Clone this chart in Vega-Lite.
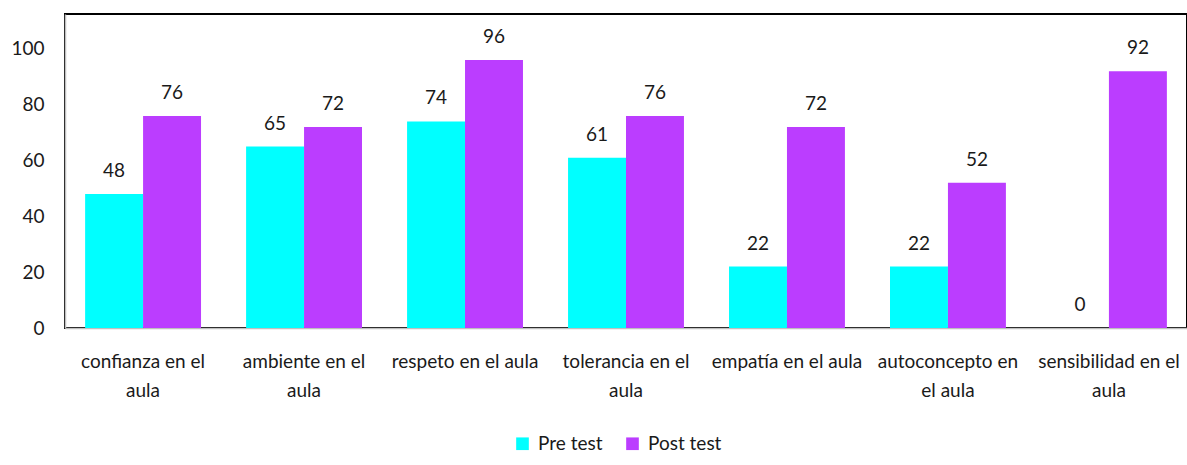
{
  "$schema": "https://vega.github.io/schema/vega-lite/v6.json",
  "width": 1122,
  "height": 314,
  "autosize": {"type": "none"},
  "padding": {"left": 65, "top": 14, "right": 0, "bottom": 137},
  "background": "white",
  "config": {
    "font": "Lato",
    "view": {"stroke": "black", "strokeWidth": 2},
    "axis": {"labelFont": "Lato", "labelColor": "#1a1a1a", "labelFontSize": 19, "domainColor": "#bfbfbf", "domainWidth": 1.5, "ticks": false, "grid": false, "title": null},
    "legend": {"labelFont": "Lato", "labelFontSize": 19, "labelColor": "#1a1a1a"}
  },
  "data": {
    "values": [
      {"categoria": "confianza en el aula", "grupo": "Pre test", "valor": 48},
      {"categoria": "confianza en el aula", "grupo": "Post test", "valor": 76},
      {"categoria": "ambiente en el aula", "grupo": "Pre test", "valor": 65},
      {"categoria": "ambiente en el aula", "grupo": "Post test", "valor": 72},
      {"categoria": "respeto en el aula", "grupo": "Pre test", "valor": 74},
      {"categoria": "respeto en el aula", "grupo": "Post test", "valor": 96},
      {"categoria": "tolerancia en el aula", "grupo": "Pre test", "valor": 61},
      {"categoria": "tolerancia en el aula", "grupo": "Post test", "valor": 76},
      {"categoria": "empatía en el aula", "grupo": "Pre test", "valor": 22},
      {"categoria": "empatía en el aula", "grupo": "Post test", "valor": 72},
      {"categoria": "autoconcepto en el aula", "grupo": "Pre test", "valor": 22},
      {"categoria": "autoconcepto en el aula", "grupo": "Post test", "valor": 52},
      {"categoria": "sensibilidad en el aula", "grupo": "Pre test", "valor": 0},
      {"categoria": "sensibilidad en el aula", "grupo": "Post test", "valor": 92}
    ]
  },
  "encoding": {
    "x": {
      "field": "categoria",
      "type": "nominal",
      "sort": null,
      "scale": {"paddingInner": 0.28, "paddingOuter": 0.125},
      "axis": {
        "labelAngle": 0,
        "labelPadding": 24,
        "labelLimit": 0,
        "labelOverlap": false,
        "labelLineHeight": 29,
        "labelExpr": "datum.value == 'confianza en el aula' ? ['confianza en el','aula'] : datum.value == 'ambiente en el aula' ? ['ambiente en el','aula'] : datum.value == 'tolerancia en el aula' ? ['tolerancia en el','aula'] : datum.value == 'autoconcepto en el aula' ? ['autoconcepto en','el aula'] : datum.value == 'sensibilidad en el aula' ? ['sensibilidad en el','aula'] : datum.value"
      }
    },
    "xOffset": {"field": "grupo", "type": "nominal", "sort": ["Pre test", "Post test"], "scale": {"paddingInner": 0, "paddingOuter": 0}},
    "y": {
      "field": "valor",
      "type": "quantitative",
      "scale": {"domain": [0, 112.5], "nice": false},
      "axis": {"values": [0, 20, 40, 60, 80, 100], "labelPadding": 21}
    }
  },
  "layer": [
    {
      "mark": {"type": "bar"},
      "encoding": {
        "color": {
          "field": "grupo",
          "type": "nominal",
          "sort": ["Pre test", "Post test"],
          "scale": {"domain": ["Pre test", "Post test"], "range": ["#00ffff", "#bb3dff"]},
          "legend": {"title": null, "orient": "none", "legendX": 448, "legendY": 420, "direction": "horizontal", "symbolType": "square", "symbolSize": 160, "symbolStrokeWidth": 0, "columnPadding": 20, "labelOffset": 6}
        }
      }
    },
    {
      "mark": {"type": "text", "baseline": "bottom", "dy": -13, "fontSize": 19, "color": "#1a1a1a", "font": "Lato"},
      "encoding": {"text": {"field": "valor", "type": "quantitative"}}
    }
  ]
}
